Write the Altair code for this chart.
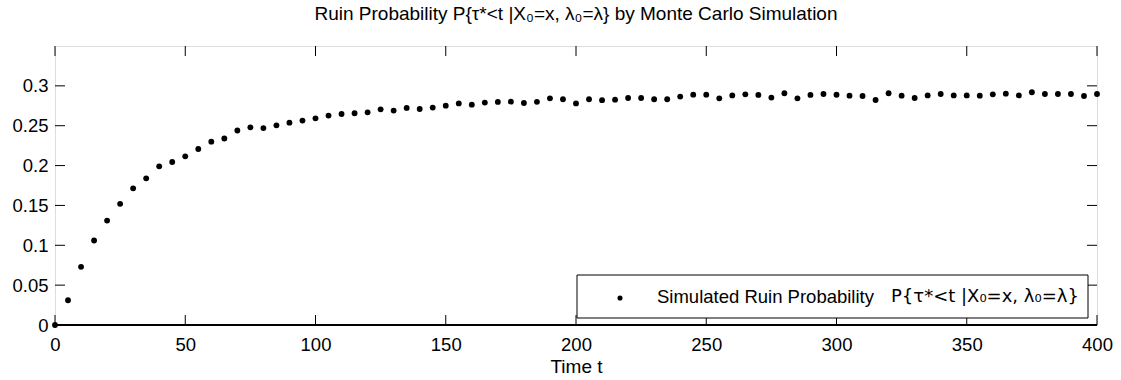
import altair as alt
import pandas as pd

# ---- data ----
time_t = list(range(0, 405, 5))
ruin_prob = [
    0.0, 0.031, 0.073, 0.106, 0.131, 0.152, 0.1715, 0.184, 0.199, 0.2045,
    0.2116, 0.2208, 0.230, 0.234, 0.244, 0.248, 0.247, 0.2505, 0.2538, 0.2564,
    0.2593, 0.2627, 0.2647, 0.2656, 0.2668, 0.2706, 0.269, 0.2723, 0.271, 0.2727,
    0.2752, 0.278, 0.2764, 0.279, 0.2798, 0.2802, 0.2785, 0.280, 0.2844, 0.2832,
    0.278, 0.2832, 0.282, 0.2827, 0.2848, 0.2848, 0.2832, 0.2832, 0.2865, 0.289,
    0.289, 0.2844, 0.288, 0.2894, 0.2886, 0.2853, 0.2907, 0.2844, 0.2886, 0.2898,
    0.2888, 0.2877, 0.2873, 0.2823, 0.2907, 0.2877, 0.2848, 0.288, 0.2898, 0.288,
    0.288, 0.2877, 0.2894, 0.2902, 0.288, 0.292, 0.2898, 0.2898, 0.2898, 0.2873,
    0.2898,
]
x_ticks = [0, 50, 100, 150, 200, 250, 300, 350, 400]
y_ticks = [0, 0.05, 0.1, 0.15, 0.2, 0.25, 0.3]
title_text = "Ruin Probability P{τ*<t |X₀=x, λ₀=λ} by Monte Carlo Simulation"
legend_name = "Simulated Ruin Probability"
legend_formula = "P{τ*<t |X₀=x, λ₀=λ}"

df = pd.DataFrame({"t": time_t, "p": ruin_prob})
df_xt = pd.DataFrame({"t": x_ticks})
df_yt = pd.DataFrame({"p": y_ticks})
df_one = pd.DataFrame({"k": [0]})

W, H = 1042, 279
FONT = "Liberation Sans"
FS = 18.5

x_scale = alt.Scale(domain=[0, 400], nice=False, zero=False)
y_scale = alt.Scale(domain=[0, 0.35], nice=False, zero=False)

x_axis = alt.Axis(values=x_ticks, ticks=False, domain=False, grid=False,
                  labelFontSize=FS, labelFont=FONT, labelColor="black",
                  labelPadding=10, title="Time t", titleFont=FONT,
                  titleFontSize=19, titleFontWeight="normal", titleColor="black",
                  titlePadding=4, labelFlush=False)
y_axis = alt.Axis(values=y_ticks, ticks=False, domain=False, grid=False,
                  labelFontSize=FS, labelFont=FONT, labelColor="black",
                  labelPadding=7, title=None, format="~g", labelFlush=False)

X = alt.X("t:Q", scale=x_scale, axis=x_axis)
Y = alt.Y("p:Q", scale=y_scale, axis=y_axis)

points = alt.Chart(df).mark_circle(size=34, color="black", opacity=1).encode(x=X, y=Y)

tick_b = alt.Chart(df_xt).mark_rule(color="black", strokeWidth=1).encode(
    x=X, y=alt.value(H), y2=alt.value(H - 10))
tick_t = alt.Chart(df_xt).mark_rule(color="black", strokeWidth=1).encode(
    x=X, y=alt.value(0), y2=alt.value(10))
tick_l = alt.Chart(df_yt).mark_rule(color="black", strokeWidth=1).encode(
    y=Y, x=alt.value(0), x2=alt.value(10))
tick_r = alt.Chart(df_yt).mark_rule(color="black", strokeWidth=1).encode(
    y=Y, x=alt.value(W), x2=alt.value(W - 10))
base_line = alt.Chart(df_one).mark_rule(color="black", strokeWidth=2).encode(
    x=alt.value(0), x2=alt.value(W), y=alt.value(H))

leg_box = alt.Chart(df_one).mark_rect(fill="white", stroke="black", strokeWidth=1).encode(
    x=alt.value(522), x2=alt.value(1033), y=alt.value(229), y2=alt.value(272))
leg_dot = alt.Chart(df_one).mark_circle(size=26, color="black", opacity=1).encode(
    x=alt.value(565), y=alt.value(252))
leg_txt1 = alt.Chart(df_one).mark_text(align="left", baseline="middle", fontSize=FS,
                                       font=FONT, color="black").encode(
    x=alt.value(602), y=alt.value(251), text=alt.value(legend_name))
leg_txt2 = alt.Chart(df_one).mark_text(align="left", baseline="middle", fontSize=18,
                                       font="DejaVu Sans", color="black").encode(
    x=alt.value(836), y=alt.value(251), text=alt.value(legend_formula))

chart = alt.layer(tick_b, tick_t, tick_l, tick_r, base_line, points,
                  leg_box, leg_dot, leg_txt1, leg_txt2).properties(
    width=W, height=H,
    title=alt.TitleParams(title_text, font=FONT, fontSize=19, fontWeight="normal",
                          color="black", anchor="middle", offset=22),
    autosize=alt.AutoSizeParams(type="none"),
    padding={"left": 55, "top": 46, "right": 24, "bottom": 55},
).configure_view(stroke="black", strokeWidth=1.5).configure(background="white")

chart.save("out.html", embed_options={"renderer": "svg", "actions": False})
